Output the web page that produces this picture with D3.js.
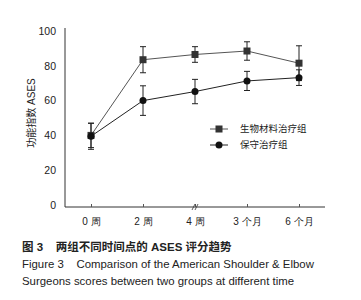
<!DOCTYPE html>
<html>
<head>
<meta charset="utf-8">
<script src="https://cdn.jsdelivr.net/npm/d3@7"></script>
<style>
  body { margin: 0; background: #fff; }
  svg { display: block; font-family: "Liberation Sans", Arial, "Noto Sans CJK SC", sans-serif; }
</style>
</head>
<body>
<svg id="chart" width="361" height="300"></svg>
<script>
const categories = ["0 周", "2 周", "4 周", "3 个月", "6 个月"];
const yTicks = [0, 20, 40, 60, 80, 100];
const bioValues = [40, 83.5, 86.5, 88.5, 81.5];
const bioErrors = [7, 7.5, 4.5, 5.3, 10];
const consValues = [39.5, 60, 65.2, 71.3, 73.2];
const consErrors = [7.5, 8.5, 7, 5.5, 4.5];
const seriesNames = ["生物材料治疗组", "保守治疗组"];

const svg = d3.select("#chart");

const x = d3.scalePoint().domain(categories).range([65, 325]).padding(0.5);
const y = d3.scaleLinear().domain([0, 100]).range([205, 31]);

// axes
const yAxis = svg.append("g")
    .attr("transform", "translate(65,0)")
    .call(d3.axisLeft(y).tickValues(yTicks).tickSize(0).tickPadding(9));
yAxis.select(".domain").attr("d", "M0,28V207").attr("stroke", "#333");
yAxis.selectAll("text").attr("font-size", 10.5).attr("fill", "#222");

const xAxis = svg.append("g")
    .attr("transform", "translate(0,207)")
    .call(d3.axisBottom(x).tickSize(-3).tickPadding(9));
xAxis.select(".domain").attr("d", "M65,0H325").attr("stroke", "#333");
xAxis.selectAll(".tick line").attr("stroke", "#555");
xAxis.selectAll("text").attr("font-size", 10).attr("fill", "#222").attr("dy", "0.9em");

// axis break at 4 周
const bx = x("4 周");
[-1.5, 1.5].forEach(o => {
    svg.append("line")
        .attr("x1", bx + o - 1.5).attr("y1", 210)
        .attr("x2", bx + o + 1.5).attr("y2", 204)
        .attr("stroke", "#333").attr("stroke-width", 0.8);
});

// y axis title
svg.append("text")
    .attr("transform", `translate(35,113) rotate(-90)`)
    .attr("text-anchor", "middle")
    .attr("font-size", 10)
    .attr("fill", "#222")
    .text("功能指数 ASES");

const line = d3.line()
    .x((d, i) => x(categories[i]))
    .y(d => y(d));

function drawSeries(values, errors, color, shape) {
    svg.append("path")
        .datum(values)
        .attr("fill", "none")
        .attr("stroke", color)
        .attr("stroke-width", 1)
        .attr("d", line);

    const g = svg.append("g");
    values.forEach((v, i) => {
        const cx = x(categories[i]);
        const top = y(v + errors[i]), bot = y(v - errors[i]);
        g.append("line").attr("x1", cx).attr("x2", cx).attr("y1", top).attr("y2", bot)
            .attr("stroke", "#222").attr("stroke-width", 1);
        [top, bot].forEach(yy => {
            g.append("line").attr("x1", cx - 3).attr("x2", cx + 3).attr("y1", yy).attr("y2", yy)
                .attr("stroke", "#222").attr("stroke-width", 1);
        });
        if (shape === "square") {
            g.append("rect").attr("x", cx - 3.5).attr("y", y(v) - 3.5)
                .attr("width", 7).attr("height", 7).attr("fill", "#333");
        } else {
            g.append("circle").attr("cx", cx).attr("cy", y(v)).attr("r", 3.5).attr("fill", "#111");
        }
    });
}

drawSeries(bioValues, bioErrors, "#555", "square");
drawSeries(consValues, consErrors, "#222", "circle");

// legend
const legend = svg.append("g");
seriesNames.forEach((name, i) => {
    const ly = 129 + i * 16;
    legend.append("line").attr("x1", 210).attr("x2", 228).attr("y1", ly).attr("y2", ly)
        .attr("stroke", i === 0 ? "#555" : "#222");
    if (i === 0) {
        legend.append("rect").attr("x", 215.5).attr("y", ly - 3.5).attr("width", 7).attr("height", 7).attr("fill", "#333");
    } else {
        legend.append("circle").attr("cx", 219).attr("cy", ly).attr("r", 3.5).attr("fill", "#111");
    }
    legend.append("text").attr("x", 240).attr("y", ly).attr("dy", "0.35em")
        .attr("font-size", 9.5).attr("fill", "#222").text(name);
});

// caption
svg.append("text").attr("x", 22).attr("y", 251).attr("font-size", 11.5)
    .attr("font-weight", "bold").attr("fill", "#222")
    .attr("xml:space", "preserve")
    .text("图 3    两组不同时间点的 ASES 评分趋势");
svg.append("text").attr("x", 22).attr("y", 268).attr("font-size", 11.4).attr("fill", "#222")
    .attr("xml:space", "preserve")
    .text("Figure 3    Comparison of the American Shoulder & Elbow");
svg.append("text").attr("x", 22).attr("y", 285).attr("font-size", 11.4).attr("fill", "#222")
    .text("Surgeons scores between two groups at different time");
</script>
</body>
</html>
